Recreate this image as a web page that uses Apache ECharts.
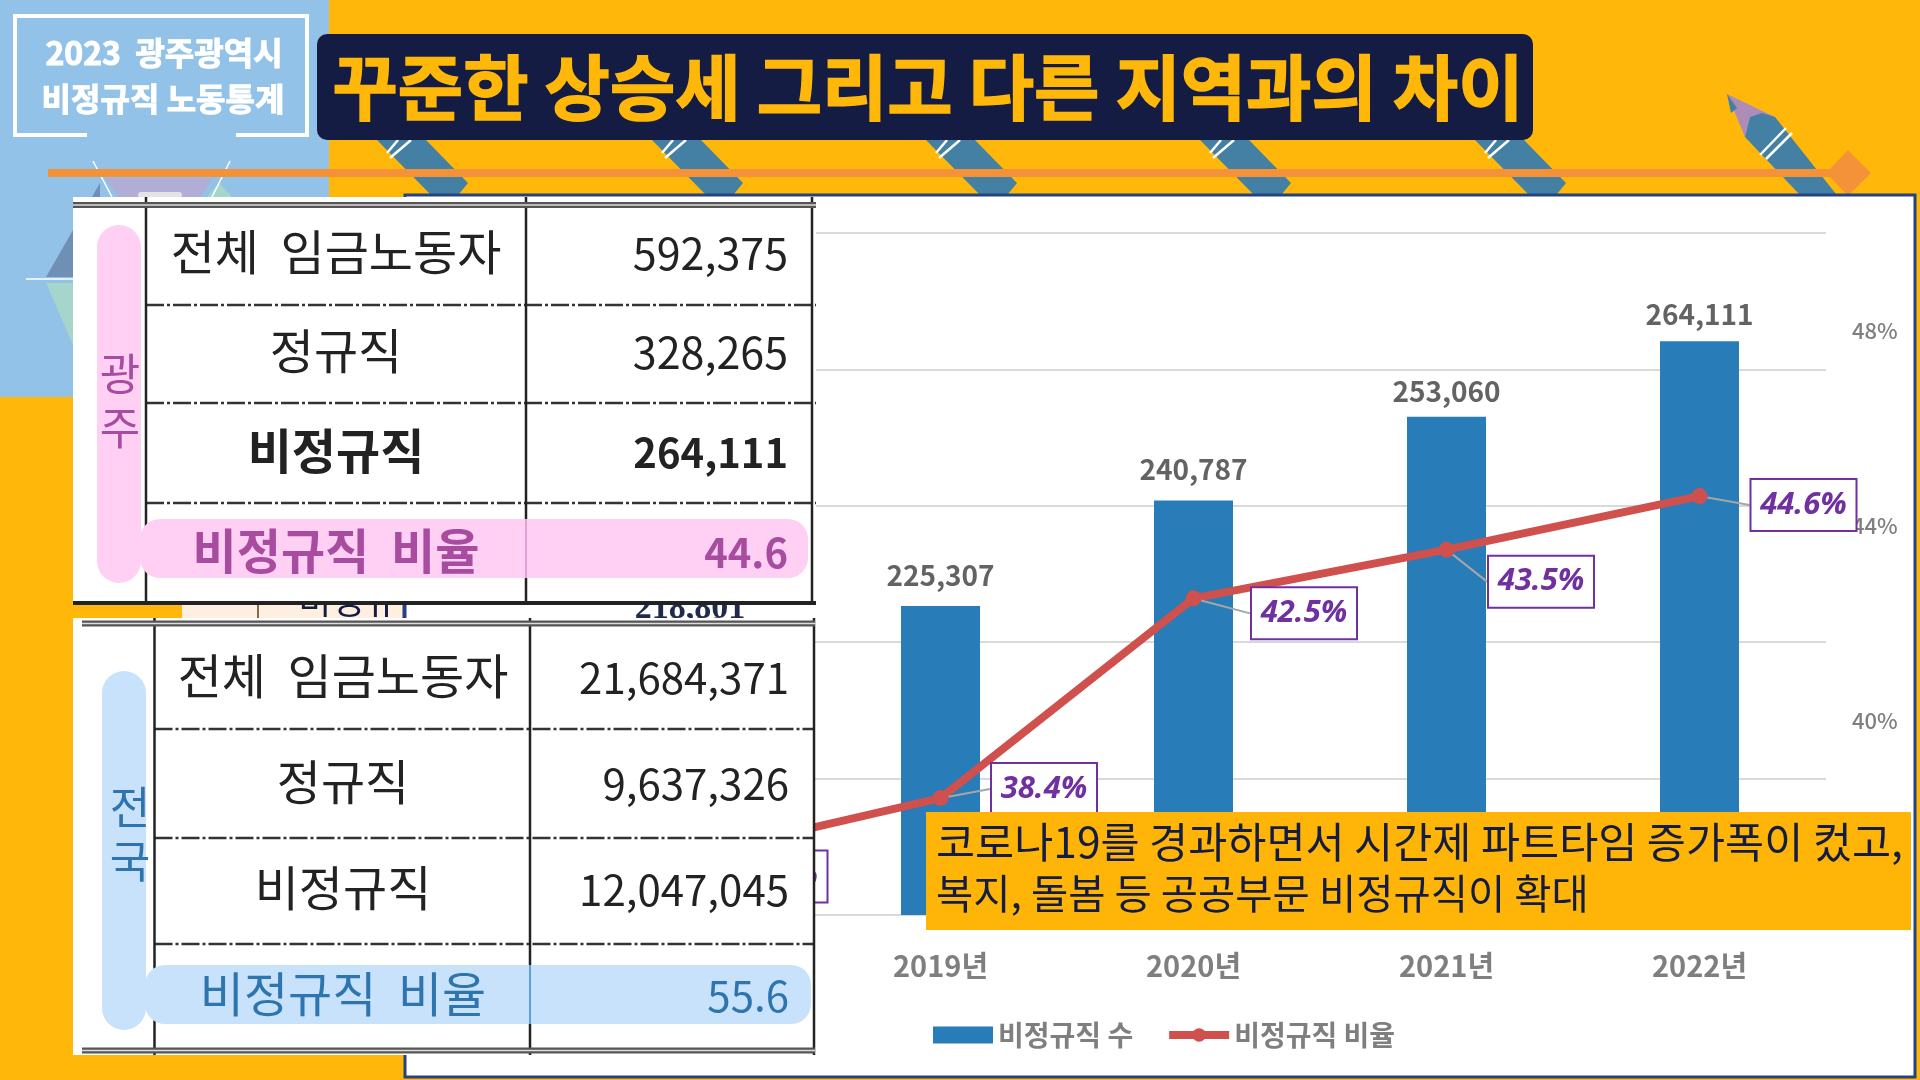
<!DOCTYPE html>
<html lang="ko">
<head>
<meta charset="utf-8">
<title>꾸준한 상승세 그리고 다른 지역과의 차이</title>
<style>
html, body { margin: 0; padding: 0; background: #FFB809; }
#chart { width: 1920px; height: 1080px; }
</style>
<script src="https://cdn.jsdelivr.net/npm/echarts@6/dist/echarts.min.js"></script>
</head>
<body>
<div id="chart"></div>
<script>
// 차트 데이터
var years = ['2018년', '2019년', '2020년', '2021년', '2022년'];
var workerCounts = [218801, 225307, 240787, 253060, 264111];
var workerRates = [37.2, 38.4, 42.5, 43.5, 44.6];

// 표 데이터
var rowLabels = ['전체  임금노동자', '정규직', '비정규직', '비정규직  비율'];
var gwangjuValues = ['592,375', '328,265', '264,111', '44.6'];
var nationValues = ['21,684,371', '9,637,326', '12,047,045', '55.6'];

// 제목, 주석
var titleText = '꾸준한 상승세 그리고 다른 지역과의 차이';
var badgeLines = ['2023  광주광역시', '비정규직 노동통계'];
var noteLines = ['코로나19를 경과하면서 시간제 파트타임 증가폭이 컸고,', '복지, 돌봄 등 공공부문 비정규직이 확대'];

var KR = '"Noto Sans CJK KR"';
var NAVY = '#141C44', ORANGE = '#FFB809';

// 라벨 위치 (기본 위치 기준 이동값)
var rateLabelShift = [[74, 20], [90.5, -9], [97.5, 15], [81.5, 32], [91, 9]];
var countLabelShift = [0, -8, -8, -2, -4];

var g = [];
function rect(x, y, w, h, fill, z, r, stroke, lw) {
    g.push({ type: 'rect', silent: true, z: z, shape: { x: x, y: y, width: w, height: h, r: r || 0 },
        style: { fill: fill, stroke: stroke || null, lineWidth: lw || 0 } });
}
function poly(points, fill, z) {
    g.push({ type: 'polygon', silent: true, z: z, shape: { points: points }, style: { fill: fill } });
}
function line(points, color, lw, z, dash) {
    g.push({ type: 'polyline', silent: true, z: z, shape: { points: points },
        style: { fill: null, stroke: color, lineWidth: lw, lineDash: dash || null } });
}
function text(str, x, y, font, fill, z, align, heavy, shadow) {
    var style = { text: str, x: x, y: y, font: font, fill: fill, textAlign: align || 'center', textVerticalAlign: 'middle' };
    if (heavy) {
        style.stroke = fill;
        style.lineWidth = heavy;
    }
    if (shadow) {
        style.shadowColor = shadow;
        style.shadowBlur = 2;
        style.shadowOffsetX = 1;
        style.shadowOffsetY = 2;
    }
    g.push({ type: 'text', silent: true, z: z, style: style });
}

// 배경
rect(0, 0, 1920, 1080, ORANGE, -30);
rect(0, 0, 329, 397, '#92C2E8', -29);

// 왼쪽 장식
poly([[100, 183], [46, 277], [100, 277]], '#6F8FB5', -28);
poly([[46, 283], [73, 283], [73, 345]], '#A5D5CB', -28);
poly([[105, 178], [213, 178], [200, 197], [118, 197]], '#B0AED6', -28);
poly([[219, 183], [207, 197], [232, 197]], '#A5D5CB', -28);
line([[93, 161], [112, 197]], '#fff', 1.5, -27);
line([[230, 161], [212, 197]], '#fff', 1.5, -27);
line([[26, 279], [73, 279]], '#fff', 1.5, -27);
rect(138, 192, 44, 6, '#E4E4E4', -27, 3);

// 연필 장식
[377, 652, 926, 1200, 1475].forEach(function (x) {
    poly([[x, 140], [x + 49, 140], [x + 91, 183], [x + 82, 194], [x + 53, 194]], '#4380A4', -26);
    line([[x + 34, 140], [x + 13, 158]], '#fff', 2.5, -25);
    line([[x + 21, 140], [x + 10, 153]], '#fff', 2.5, -25);
});
poly([[1727, 94], [1775, 117], [1745, 137]], '#AD8DB8', -26);
poly([[1727, 94], [1737, 108], [1731, 113]], '#4380A4', -25);
poly([[1750, 117], [1762, 113], [1775, 117], [1836, 194], [1799, 194], [1745, 137]], '#4380A4', -25);
line([[1792, 133], [1766, 159]], '#fff', 2.5, -24);
line([[1786, 128], [1760, 155]], '#fff', 2.5, -24);

// 제목
rect(317, 34, 1216, 106, NAVY, -20, 10);
text(titleText, 928, 87, 'bold 71px ' + KR, ORANGE, -19, 'center', 1.5);

// 왼쪽 위 배지
line([[87, 135], [15, 135], [15, 16], [307, 16], [307, 135], [236, 135]], '#fff', 4, -20);
text(badgeLines[0], 164, 53, 'bold 32px ' + KR, '#fff', -19, 'center', 1, '#5F7FA8');
text(badgeLines[1], 163, 99, 'bold 32px ' + KR, '#fff', -19, 'center', 1, '#5F7FA8');

// 주황색 가로선
rect(48, 169, 1784, 8, '#F4923A', -18);
poly([[1848, 150], [1871, 173], [1848, 196], [1826, 173]], '#F4923A', -18);

// 차트 패널
rect(405, 195, 1510, 882, '#fff', -15, 0, '#24427F', 3);

// 표 뒤로 보이는 다른 표 조각
rect(182, 605, 222, 13, '#FFEFE0', 40);
line([[258, 605], [258, 618]], '#8A6A4A', 2, 41);
line([[404, 605], [404, 618]], '#24427F', 3, 41);
text(rowLabels[2].slice(0, 3), 348, 600, '36px ' + KR, NAVY, 41);
text(workerCounts[0].toLocaleString('en-US'), 690, 609, 'bold 34px "Liberation Serif"', '#1F2A4C', 41);

// 주석 상자
rect(926, 812, 985, 118, '#FFB508', 50);
text(noteLines[0], 936, 842, '42.5px ' + KR, NAVY, 51, 'left');
text(noteLines[1], 936, 894, '40.5px ' + KR, NAVY, 51, 'left');

// 표 그리기
function drawTable(t) {
    var z = t.z;
    rect(t.left, t.top, t.right - t.left, t.bottom - t.top, '#fff', z);
    t.dash.forEach(function (y) {
        line([[t.col1, y], [t.right, y]], '#333', 2.5, z + 1, [18, 3, 3, 3]);
    });
    [t.col1, t.col2, t.col3].forEach(function (x) {
        line([[x, t.top], [x, t.bottom]], '#222', 2.5, z + 1);
    });
    // 세로, 가로 강조 띠
    rect(t.pillV[0], t.pillV[1], t.pillV[2], t.pillV[3], t.pillColor, z + 2, 22);
    rect(t.pillH[0], t.pillH[1], t.pillH[2], t.pillH[3], t.pillColor, z + 2, 20);
    line([[t.col2, t.pillH[1]], [t.col2, t.pillH[1] + t.pillH[3]]], t.pillLine, 2, z + 3);
    text(t.region[0], t.regionX, t.regionY[0], '44px ' + KR, t.accent, z + 4);
    text(t.region[1], t.regionX, t.regionY[1], '44px ' + KR, t.accent, z + 4);
    rowLabels.forEach(function (label, i) {
        var bold = t.boldRows.indexOf(i) >= 0;
        text(label, t.labelX, t.rowY[i], (bold ? 'bold ' : '') + '48px ' + KR, i === 3 ? t.accent : '#222', z + 4);
        text(t.values[i], t.valueX, t.rowY[i] + 2, (bold ? 'bold 40px ' : t.valueFont) + KR, i === 3 ? t.accent : '#222', z + 4, 'right');
    });
}

drawTable({
    z: 60, left: 73, right: 816, top: 197, bottom: 601,
    col1: 146, col2: 526, col3: 812, dash: [305, 403, 503],
    pillV: [97, 225, 44, 358], pillH: [140, 519, 668, 59],
    pillColor: '#FFD0F4', pillLine: '#E3A0D6', accent: '#A84CA0',
    region: ['광', '주'], regionX: 120, regionY: [374, 428],
    labelX: 336, valueX: 788, valueFont: '43px ', rowY: [252, 351, 451, 551],
    values: gwangjuValues, boldRows: [2, 3]
});
line([[73, 205], [816, 205]], '#555', 6, 62);
line([[73, 205], [816, 205]], '#ddd', 1.5, 62);
rect(73, 601, 743, 4, '#222', 62);

drawTable({
    z: 60, left: 73, right: 815, top: 618, bottom: 1055,
    col1: 154.5, col2: 530, col3: 814, dash: [729, 838, 944],
    pillV: [102, 671, 44, 359], pillH: [145, 965, 666, 59],
    pillColor: '#C8E2FC', pillLine: '#5E9FD8', accent: '#2E75B0',
    region: ['전', '국'], regionX: 130, regionY: [807, 861],
    labelX: 343, valueX: 789, valueFont: '42px ', rowY: [676, 782, 888, 994],
    values: nationValues, boldRows: []
});
[623.5, 1050.5].forEach(function (y) {
    line([[82, y], [815, y]], '#555', 6, 62);
    line([[82, y], [815, y]], '#ddd', 1.5, 62);
});

var chart = echarts.init(document.getElementById('chart'));
chart.setOption({
    animation: false,
    textStyle: { fontFamily: KR },
    graphic: { elements: g },
    grid: { left: 561, right: 94, top: 233, bottom: 165 },
    legend: {
        left: 928, top: 1016, itemWidth: 60, itemHeight: 17, itemGap: 32,
        textStyle: { color: '#7F7F7F', fontSize: 28, fontWeight: 'bold' },
        data: [
            { name: '비정규직 수', icon: 'rect' },
            { name: '비정규직 비율', lineStyle: { width: 8 } }
        ]
    },
    xAxis: {
        type: 'category', data: years,
        axisLine: { lineStyle: { color: '#D9D9D9', width: 2 } },
        axisTick: { show: false },
        axisLabel: { color: '#7F7F7F', fontSize: 29, fontWeight: 'bold', margin: 36 }
    },
    yAxis: [{
        type: 'value', min: 180000, max: 280000, interval: 20000,
        axisLine: { show: false }, axisTick: { show: false }, axisLabel: { show: false },
        splitLine: { lineStyle: { color: '#D9D9D9', width: 2 } }
    }, {
        type: 'value', min: 36, max: 50, interval: 4, position: 'right',
        axisLine: { show: false }, axisTick: { show: false }, splitLine: { show: false },
        axisLabel: { color: '#7F7F7F', fontSize: 22, fontWeight: 500, margin: 26, formatter: '{value}%', showMaxLabel: false }
    }],
    series: [{
        type: 'bar', name: '비정규직 수', data: workerCounts, barWidth: 79,
        itemStyle: { color: '#287CB7' },
        label: {
            show: true, position: 'top', distance: 9, color: '#636363', fontSize: 28, fontWeight: 'bold',
            formatter: function (p) { return p.value.toLocaleString('en-US'); }
        },
        labelLayout: function (p) {
            return { dy: countLabelShift[p.dataIndex] };
        }
    }, {
        type: 'line', name: '비정규직 비율', yAxisIndex: 1, data: workerRates,
        symbol: 'circle', symbolSize: 16,
        lineStyle: { color: '#D0504D', width: 8 },
        itemStyle: { color: '#D0504D' },
        label: {
            show: true, position: 'right', distance: 5,
            width: 104, height: 50, lineHeight: 50, align: 'center',
            backgroundColor: '#fff', borderColor: '#7030A0', borderWidth: 2,
            color: '#7030A0', fontSize: 31, fontWeight: 'bold', fontStyle: 'italic', fontFamily: '"Noto Sans"',
            formatter: '{c}%'
        },
        labelLine: { show: true, lineStyle: { color: '#A6A6A6', width: 2 } },
        labelLayout: function (p) {
            return { dx: rateLabelShift[p.dataIndex][0], dy: rateLabelShift[p.dataIndex][1] };
        }
    }]
});
</script>
</body>
</html>
